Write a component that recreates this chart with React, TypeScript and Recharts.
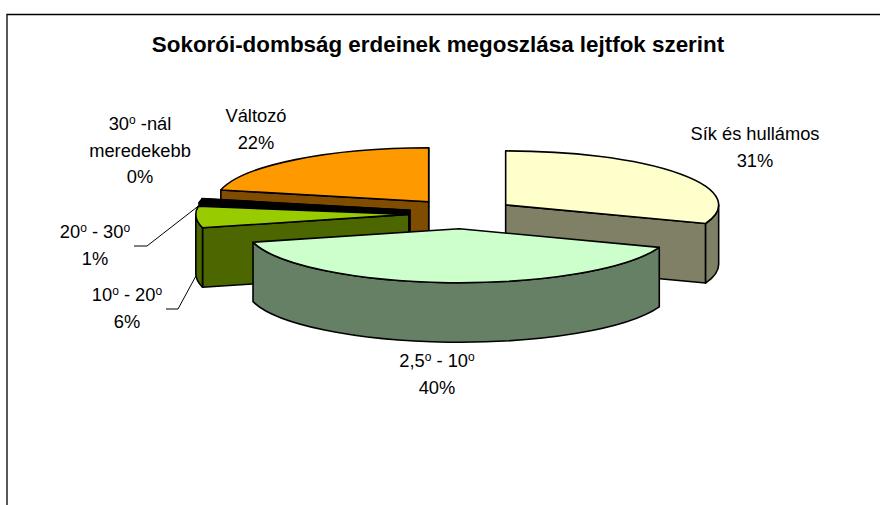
import { PieChart, Pie } from 'recharts';

// listed back to front so the slices overlap the right way
const categories = ['Sík és hullámos', 'Változó', '30o -nál meredekebb', '20o - 30o', '10o - 20o', '2,5o - 10o'];
const shares = [30.6, 21.5, 0.1, 1, 6.4, 40.4];
const topColors = ['#FFFFCC', '#FF9900', '#000000', '#000000', '#99CC00', '#CCFFCC'];
const wallColors = ['#808066', '#804C00', '#000000', '#000000', '#4C6600', '#668066'];
const labelLines = [
  ['Sík és hullámos'],
  ['Változó'],
  ['30o -nál', 'meredekebb'],
  ['20o - 30o'],
  ['10o - 20o'],
  ['2,5o - 10o'],
];
const labelSpots = [
  [755, 140],
  [256, 122],
  [140, 130],
  [95, 238],
  [127, 301],
  [437, 367],
];

const TILT = 0.2535;
const EXPLODE_TILT = 0.285;
const DEPTH = 59.5;
const EXPLODE = 0.25;
const FONT = '"Liberation Sans", Arial, sans-serif';

const table = categories.map((name, i) => ({
  name,
  value: shares[i],
  fill: topColors[i],
  wall: wallColors[i],
}));

// pie runs counter-clockwise from the end of the first slice, so it still starts at 12 o'clock
const total = shares.reduce((a, b) => a + b, 0);
const startAngle = 90 - (360 * shares[0]) / total;

const rad = (d: number) => (d * Math.PI) / 180;

function Slice3D(props: any) {
  const { cx, cy, outerRadius: r, startAngle: lo, endAngle: hi, fill, wall } = props;
  const mid = rad((lo + hi) / 2);
  const ax = cx + Math.cos(mid) * r * EXPLODE;
  const ay = cy - Math.sin(mid) * r * EXPLODE * EXPLODE_TILT;
  const ry = r * TILT;
  const pt = (d: number, drop = 0) =>
    `${ax + Math.cos(rad(d)) * r} ${ay - Math.sin(rad(d)) * ry + drop}`;
  const big = (a: number, b: number) => (b - a > 180 ? 1 : 0);

  const edge = (d: number) =>
    `M${ax} ${ay} L${pt(d)} L${pt(d, DEPTH)} L${ax} ${ay + DEPTH} Z`;

  const walls: string[] = [];
  if (Math.cos(rad(lo)) > 0) walls.push(edge(lo));
  if (Math.cos(rad(hi)) < 0) walls.push(edge(hi));
  // only the part of the rim facing the viewer
  for (const k of [-360, 0, 360]) {
    const a = Math.max(lo, 180 + k);
    const b = Math.min(hi, 360 + k);
    if (b > a) {
      walls.push(
        `M${pt(a)} A${r} ${ry} 0 ${big(a, b)} 0 ${pt(b)} L${pt(b, DEPTH)} A${r} ${ry} 0 ${big(a, b)} 1 ${pt(a, DEPTH)} Z`
      );
    }
  }
  const top = `M${ax} ${ay} L${pt(lo)} A${r} ${ry} 0 ${big(lo, hi)} 0 ${pt(hi)} Z`;

  return (
    <g stroke="#000" strokeWidth={1.6} strokeLinejoin="round">
      {walls.map((d, i) => (
        <path key={i} d={d} fill={wall} />
      ))}
      <path d={top} fill={fill} />
    </g>
  );
}

// small raised "o" for the degree signs
function Degrees({ text }: { text: string }) {
  const parts = text.split(/(?<=\d)o/);
  return (
    <>
      {parts.map((part, i) => (
        <tspan key={i}>
          <tspan dy={i > 0 ? 6 : 0}>{part}</tspan>
          {i < parts.length - 1 && (
            <tspan dy={-6} fontSize={12}>
              o
            </tspan>
          )}
        </tspan>
      ))}
    </>
  );
}

function SliceLabel(props: any) {
  const { index, percent } = props;
  const [x, y] = labelSpots[index];
  const lines = labelLines[index];
  return (
    <text textAnchor="middle" fontFamily={FONT} fontSize={18.3} fill="#000">
      {lines.map((line, i) => (
        <tspan key={i} x={x} y={y + i * 26.5}>
          <Degrees text={line} />
        </tspan>
      ))}
      <tspan x={x} y={y + lines.length * 26.5}>
        {`${Math.round(percent * 100)}%`}
      </tspan>
    </text>
  );
}

export default function App() {
  return (
    <div style={{ position: 'absolute', left: 0, top: 0, width: 880, height: 505, overflow: 'hidden', background: '#fff' }}>
      <PieChart width={880} height={505} margin={{ top: 0, right: 0, bottom: 0, left: 0 }}>
        <polyline points="7,505 7,14.5 880,14.5" fill="none" stroke="#000" strokeWidth={1.3} />
        <text x={438} y={52} textAnchor="middle" fontFamily={FONT} fontSize={22.4} fontWeight="bold" fill="#000">
          Sokorói-dombság erdeinek megoszlása lejtfok szerint
        </text>
        <Pie
          data={table}
          dataKey="value"
          nameKey="name"
          cx={462}
          cy={213.6}
          innerRadius={0}
          outerRadius={213}
          startAngle={startAngle}
          endAngle={startAngle + 360}
          shape={Slice3D}
          label={SliceLabel}
          labelLine={false}
          isAnimationActive={false}
        />
        <polyline points="134,246 147,246 201,204" fill="none" stroke="#000" strokeWidth={1} />
        <polyline points="166,309 178,309 197,274" fill="none" stroke="#000" strokeWidth={1} />
      </PieChart>
    </div>
  );
}
